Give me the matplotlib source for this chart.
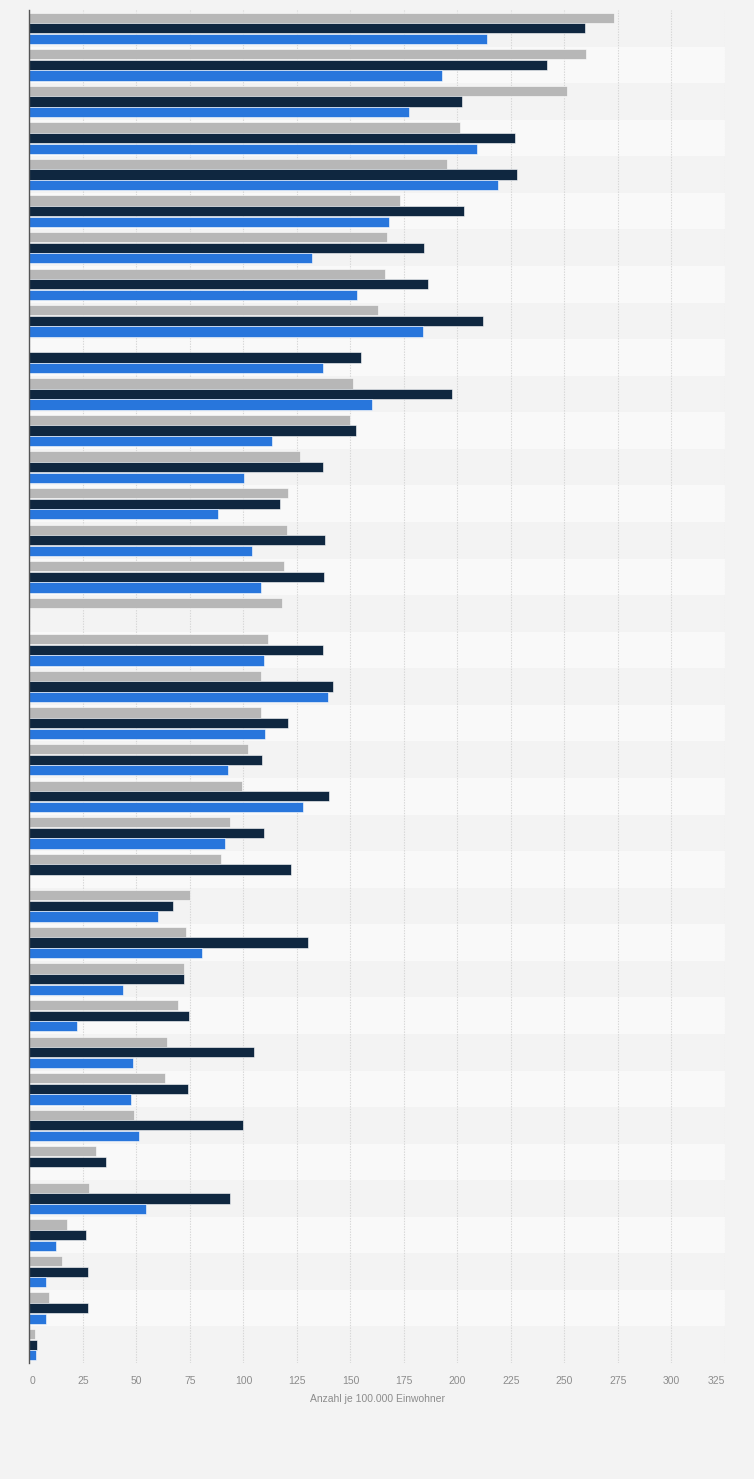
import numpy as np
import matplotlib
matplotlib.use("Agg")
import matplotlib.pyplot as plt

# Werte je Zeile (von oben nach unten), np.nan = kein Balken
serie_grau = [273, 260, 251, 201, 195, 173, 167, 166, 163, np.nan,
              151, 150, 126.5, 121, 120.5, 119, 118, 111.5, 108, 108,
              102, 99.5, 93.5, 89.5, 75, 73.3, 72.2, 69.4, 64.4, 63.5,
              49, 31.2, 27.8, 17.5, 15.2, 9.1, 2.6]
serie_dunkel = [259.6, 241.7, 202, 227, 228, 203, 184.5, 186, 212, 155,
                197.6, 152.7, 137, 117, 138, 137.8, np.nan, 137, 142, 121,
                108.8, 140, 109.7, 122.3, 67.2, 130.3, 72.2, 74.7, 105, 74.2,
                99.9, 35.9, 93.8, 26.4, 27.5, 27.5, 3.5]
serie_blau = [214, 193, 177.5, 209, 219, 168, 132, 153, 184, 137,
              160, 113.5, 100.4, 88, 104, 108, np.nan, 109.7, 139.6, 110,
              93, 128, 91.5, np.nan, 60.2, 80.7, 43.7, 22.2, 48.5, 47.4,
              51.3, np.nan, 54.6, 12.4, 7.7, 7.7, 3]
x_ticks = [0, 25, 50, 75, 100, 125, 150, 175, 200, 225, 250, 275, 300, 325]
x_label = "Anzahl je 100.000 Einwohner"

plt.rcParams["font.family"] = ["Liberation Sans", "DejaVu Sans"]

fig = plt.figure(figsize=(7.54, 14.79), dpi=100, facecolor="#f3f3f3")
ax = fig.add_axes([0.0391, 0.0784, 0.9224, 0.9148])
ax.set_facecolor("#f3f3f3")

n = len(serie_grau)
pos = np.arange(n)

# Zeilenhintergrund abwechselnd
for i in range(n):
    farbe = "#f3f3f3" if i % 2 == 0 else "#f9f9f9"
    ax.axhspan(i - 0.5, i + 0.5, color=farbe, zorder=0, lw=0)

# Balken
h = 0.28
serien = [(serie_grau, -0.29, "#b7b7b7"),
          (serie_dunkel, 0.0, "#0f2740"),
          (serie_blau, 0.29, "#2876dc")]
for werte, off, farbe in serien:
    w = np.array(werte, dtype=float)
    ok = ~np.isnan(w)
    ax.barh(pos[ok] + off, w[ok], height=h, color=farbe,
            edgecolor="white", linewidth=0.4, zorder=3)

ax.set_xlim(0, 325)
ax.set_ylim(n - 0.5, -0.5)
ax.set_xticks(x_ticks)
ax.set_xticklabels([str(t) for t in x_ticks])
ax.set_yticks([])
ax.grid(axis="x", color="#d6d6d6", linestyle=(0, (1.2, 1.2)), linewidth=0.8, zorder=1)
ax.set_axisbelow(False)

# Randbeschriftungen nach innen ziehen
labels = ax.get_xticklabels()
labels[0].set_ha("left")
labels[-1].set_ha("right")

for s in ["top", "right", "bottom"]:
    ax.spines[s].set_visible(False)
ax.spines["left"].set_color("#555555")
ax.spines["left"].set_linewidth(1.0)
ax.spines["left"].set_zorder(4)

ax.tick_params(axis="x", length=0, pad=9, labelsize=7.5, labelcolor="#8c8c8c")
ax.set_xlabel(x_label, fontsize=7.5, color="#8c8c8c", labelpad=6)

plt.savefig("out.png", dpi=100, facecolor=fig.get_facecolor())
plt.close()
